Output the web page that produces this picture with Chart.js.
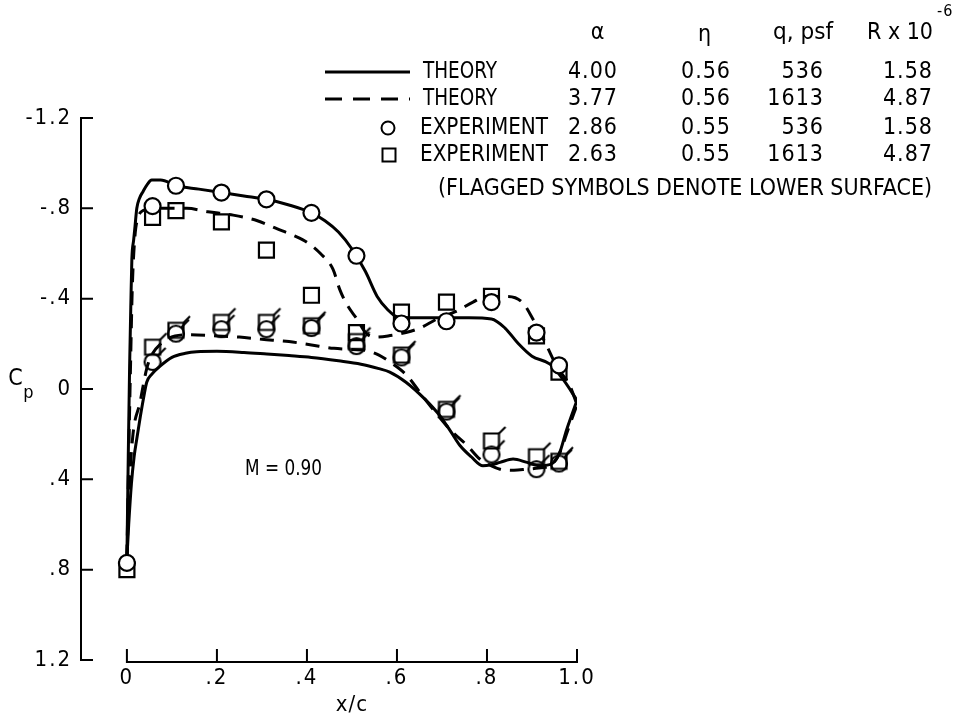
<!DOCTYPE html>
<html>
<head>
<meta charset="utf-8">
<script src="https://cdn.jsdelivr.net/npm/chart.js@4.4.0/dist/chart.umd.min.js"></script>
<style>
  body { margin: 0; background: #fff; }
  canvas { display: block; }
</style>
</head>
<body>
<canvas id="cp" width="959" height="718"></canvas>
<script>
// axis ticks
var xTickValues = [0, 0.2, 0.4, 0.6, 0.8, 1.0];
var xTickLabels = ['0', '.2', '.4', '.6', '.8', '1.0'];
var yTickValues = [-1.2, -0.8, -0.4, 0, 0.4, 0.8, 1.2];
var yTickLabels = ['-1.2', '-.8', '-.4', '0', '.4', '.8', '1.2'];

// experiment, pressure orifice stations (x/c)
var stations = [0, 0.057, 0.109, 0.21, 0.31, 0.41, 0.51, 0.61, 0.71, 0.81, 0.91, 0.96];
// circles: q = 536 psf
var circleUpper = [0.77, -0.81, -0.90, -0.87, -0.84, -0.78, -0.59, -0.29, -0.30, -0.385, -0.25, -0.105];
var circleLower = [null, -0.12, -0.245, -0.265, -0.265, -0.27, -0.19, -0.14, 0.10, 0.29, 0.355, 0.33];
// squares: q = 1613 psf
var squareUpper = [0.80, -0.76, -0.79, -0.74, -0.615, -0.415, -0.25, -0.34, -0.385, -0.41, -0.235, -0.075];
var squareLower = [null, -0.185, -0.26, -0.295, -0.295, -0.28, -0.21, -0.15, 0.09, 0.23, 0.30, 0.32];

// theory, alpha 4.00 (solid)
var solidUpX = [0, 0.003, 0.006, 0.009, 0.011, 0.015, 0.018, 0.022, 0.028, 0.036, 0.045, 0.055, 0.075, 0.11, 0.16, 0.21, 0.26, 0.31, 0.36, 0.41, 0.44, 0.47, 0.50, 0.53, 0.556, 0.58, 0.60, 0.64, 0.70, 0.76, 0.81, 0.84, 0.87, 0.90, 0.94, 0.97, 1.0];
var solidUpCp = [0.75, 0.30, -0.10, -0.40, -0.575, -0.66, -0.72, -0.80, -0.845, -0.875, -0.905, -0.925, -0.925, -0.90, -0.885, -0.87, -0.855, -0.84, -0.815, -0.78, -0.745, -0.695, -0.62, -0.52, -0.41, -0.35, -0.32, -0.315, -0.315, -0.315, -0.31, -0.27, -0.2, -0.145, -0.11, -0.04, 0.05];
var solidLoX = [0, 0.004, 0.01, 0.016, 0.022, 0.03, 0.037, 0.044, 0.055, 0.073, 0.1, 0.13, 0.155, 0.2, 0.26, 0.311, 0.36, 0.41, 0.47, 0.52, 0.56, 0.584, 0.62, 0.662, 0.696, 0.72, 0.74, 0.765, 0.791, 0.81, 0.829, 0.858, 0.889, 0.918, 0.945, 0.96, 0.977, 1.0];
var solidLoCp = [0.75, 0.60, 0.42, 0.30, 0.22, 0.12, 0.04, -0.03, -0.065, -0.10, -0.14, -0.158, -0.165, -0.167, -0.162, -0.155, -0.148, -0.14, -0.125, -0.11, -0.09, -0.075, -0.03, 0.045, 0.12, 0.19, 0.25, 0.30, 0.34, 0.335, 0.325, 0.31, 0.325, 0.34, 0.33, 0.29, 0.18, 0.05];

// theory, alpha 3.77 (dashed)
var dashUpX = [0, 0.004, 0.008, 0.012, 0.018, 0.025, 0.036, 0.06, 0.1, 0.133, 0.18, 0.236, 0.29, 0.333, 0.37, 0.40, 0.43, 0.458, 0.473, 0.49, 0.511, 0.53, 0.55, 0.58, 0.62, 0.651, 0.689, 0.733, 0.769, 0.80, 0.844, 0.878, 0.902, 0.933, 0.955, 0.984, 1.0];
var dashUpCp = [0.75, 0.30, -0.10, -0.45, -0.68, -0.76, -0.79, -0.80, -0.80, -0.80, -0.785, -0.77, -0.745, -0.71, -0.68, -0.65, -0.60, -0.53, -0.44, -0.37, -0.31, -0.25, -0.23, -0.235, -0.25, -0.27, -0.31, -0.345, -0.385, -0.41, -0.41, -0.385, -0.31, -0.19, -0.10, -0.015, 0.07];
var dashLoX = [0, 0.005, 0.013, 0.029, 0.044, 0.055, 0.075, 0.107, 0.14, 0.2, 0.25, 0.3, 0.36, 0.41, 0.46, 0.50, 0.533, 0.56, 0.584, 0.622, 0.651, 0.68, 0.718, 0.756, 0.784, 0.81, 0.829, 0.86, 0.889, 0.915, 0.94, 0.962, 0.98, 1.0];
var dashLoCp = [0.75, 0.45, 0.21, 0.06, -0.09, -0.15, -0.20, -0.235, -0.24, -0.235, -0.23, -0.22, -0.21, -0.195, -0.18, -0.175, -0.17, -0.15, -0.12, -0.06, 0.015, 0.09, 0.18, 0.25, 0.31, 0.34, 0.355, 0.36, 0.355, 0.35, 0.34, 0.28, 0.18, 0.07];

// legend table
var legendNames = ['THEORY', 'THEORY', 'EXPERIMENT', 'EXPERIMENT'];
var alphaVals = ['4.00', '3.77', '2.86', '2.63'];
var etaVals = ['0.56', '0.56', '0.55', '0.55'];
var qVals = ['536', '1613', '536', '1613'];
var rVals = ['1.58', '4.87', '1.58', '4.87'];

var FONT = '"Liberation Sans Narrow", "DejaVu Sans Condensed", "Liberation Sans", sans-serif';

function pts(xs, ys) {
  var out = [];
  for (var i = 0; i < xs.length; i++) {
    if (ys[i] !== null) out.push({x: xs[i], y: ys[i]});
  }
  return out;
}

// symbol with a little flag, for the lower surface
function flagged(kind) {
  var c = document.createElement('canvas');
  c.width = 44; c.height = 44;
  var g = c.getContext('2d');
  g.strokeStyle = '#000';
  g.lineWidth = 2.2;
  g.beginPath();
  if (kind == 'circle') g.arc(22, 22, 8, 0, Math.PI * 2);
  else g.rect(14.5, 14.5, 15, 15);
  g.stroke();
  g.beginPath();
  if (kind == 'circle') { g.moveTo(27, 16); g.lineTo(35, 8); }
  else { g.moveTo(29, 15); g.lineTo(36, 8); }
  g.stroke();
  return c;
}

// text squeezed to a given width, left edge at x
function fitText(ctx, text, x, y, w) {
  ctx.save();
  ctx.letterSpacing = '0px';
  ctx.textAlign = 'left';
  var m = ctx.measureText(text).width;
  ctx.translate(x, y);
  ctx.scale(w / m, 1);
  ctx.fillText(text, 0, 0);
  ctx.restore();
}

var decor = {
  id: 'decor',
  beforeDraw: function(chart) {
    chart.ctx.letterSpacing = '2px';
  },
  beforeDatasetsDraw: function(chart) {
    var ctx = chart.ctx, xs = chart.scales.x, ys = chart.scales.y;
    var left = chart.chartArea.left;
    var top = ys.getPixelForValue(-1.2), bot = ys.getPixelForValue(1.2);
    ctx.save();
    ctx.strokeStyle = '#000';
    ctx.lineWidth = 2;
    ctx.beginPath();
    ctx.moveTo(left, top - 1);
    ctx.lineTo(left, bot + 1);
    yTickValues.forEach(function(v) {
      var py = ys.getPixelForValue(v);
      ctx.moveTo(left, py);
      ctx.lineTo(left + 12, py);
    });
    var xb = bot + 2;
    ctx.moveTo(xs.getPixelForValue(0) - 1, xb);
    ctx.lineTo(xs.getPixelForValue(1) + 1, xb);
    xTickValues.forEach(function(v) {
      var px = xs.getPixelForValue(v);
      ctx.moveTo(px, xb);
      ctx.lineTo(px, xb - 13);
    });
    ctx.stroke();
    ctx.restore();
  },
  afterDraw: function(chart) {
    var ctx = chart.ctx, xs = chart.scales.x, ys = chart.scales.y;
    ctx.save();
    ctx.fillStyle = '#000';
    ctx.strokeStyle = '#000';
    ctx.letterSpacing = '1px';
    ctx.textBaseline = 'middle';

    // axis titles
    var y0 = ys.getPixelForValue(0);
    ctx.font = '23px ' + FONT;
    ctx.textAlign = 'center';
    ctx.fillText('C', 16, y0 - 10);
    ctx.font = '18px ' + FONT;
    ctx.fillText('p', 29, y0 + 4);
    ctx.font = '22px ' + FONT;
    ctx.fillText('x/c', xs.getPixelForValue(0.5), 705);
    fitText(ctx, 'M = 0.90', xs.getPixelForValue(0.347) - 38, ys.getPixelForValue(0.355), 77);

    // legend header
    ctx.font = '23px ' + FONT;
    ctx.textAlign = 'center';
    ctx.fillText('\u03b1', 598, 33);
    ctx.fillText('\u03b7', 705, 35);
    fitText(ctx, 'q, psf', 773, 33, 60);
    fitText(ctx, 'R x 10', 867, 33, 66);
    ctx.font = '16px ' + FONT;
    ctx.textAlign = 'left';
    ctx.fillText('-6', 937, 12);
    ctx.font = '23px ' + FONT;

    var rows = [72, 99, 128, 155];
    for (var i = 0; i < rows.length; i++) {
      var ry = rows[i];
      if (i < 2) fitText(ctx, legendNames[i], 423, ry, 74);
      else fitText(ctx, legendNames[i], 420, ry, 128);
      ctx.textAlign = 'right';
      ctx.fillText(alphaVals[i], 618, ry);
      ctx.fillText(qVals[i], 824, ry);
      ctx.fillText(rVals[i], 933, ry);
      ctx.textAlign = 'center';
      ctx.fillText(etaVals[i], 706, ry);
    }
    // legend samples
    ctx.lineWidth = 2.8;
    ctx.beginPath();
    ctx.moveTo(325, rows[0]); ctx.lineTo(410, rows[0]);
    ctx.stroke();
    ctx.setLineDash([17, 11]);
    ctx.beginPath();
    ctx.moveTo(325, rows[1]); ctx.lineTo(410, rows[1]);
    ctx.stroke();
    ctx.setLineDash([]);
    ctx.lineWidth = 2;
    ctx.beginPath();
    ctx.arc(388, rows[2], 6.5, 0, Math.PI * 2);
    ctx.stroke();
    ctx.strokeRect(382.5, rows[3] - 6.5, 13, 13);

    fitText(ctx, '(FLAGGED SYMBOLS DENOTE LOWER SURFACE)', 438, 189, 494);
    ctx.restore();
    ctx.letterSpacing = '0px';
  }
};

var pointBase = {
  showLine: false,
  pointBorderColor: '#000',
  pointBorderWidth: 2.2
};
function pointSet(data, style, radius, fill) {
  return Object.assign({}, pointBase, {
    data: data, pointStyle: style, pointRadius: radius,
    pointBackgroundColor: fill
  });
}
function lineSet(data, dash) {
  return {
    data: data, showLine: true, pointRadius: 0, borderColor: '#000',
    borderWidth: 3, borderDash: dash, fill: false,
    cubicInterpolationMode: 'monotone'
  };
}

var ctx = document.getElementById('cp').getContext('2d');
var chart = new Chart(ctx, {
  type: 'scatter',
  data: {
    datasets: [
      pointSet(pts(stations, circleUpper), 'circle', 8, '#fff'),
      pointSet(pts(stations, circleLower), flagged('circle'), 8, 'rgba(0,0,0,0)'),
      pointSet(pts(stations, squareUpper), 'rect', 10.6, 'rgba(0,0,0,0)'),
      pointSet(pts(stations, squareLower), flagged('square'), 8, 'rgba(0,0,0,0)'),
      lineSet(pts(solidUpX, solidUpCp), []),
      lineSet(pts(solidLoX, solidLoCp), []),
      lineSet(pts(dashUpX, dashUpCp), [14, 9]),
      lineSet(pts(dashLoX, dashLoCp), [14, 9])
    ]
  },
  options: {
    responsive: false,
    animation: false,
    events: [],
    layout: { padding: { left: 6, right: 382, top: 118, bottom: 6 } },
    plugins: { legend: { display: false }, tooltip: { enabled: false } },
    scales: {
      x: {
        type: 'linear', min: -0.102, max: 1.0,
        border: { display: false },
        grid: { display: false, drawTicks: false },
        afterBuildTicks: function(s) { s.ticks = xTickValues.map(function(v) { return {value: v}; }); },
        afterFit: function(s) { s.height = 52; },
        ticks: {
          autoSkip: false, maxRotation: 0, padding: 5, color: '#000',
          font: { family: FONT, size: 22 },
          callback: function(v, i) { return xTickLabels[i]; }
        }
      },
      y: {
        type: 'linear', min: -1.2, max: 1.2, reverse: true,
        border: { display: false },
        grid: { display: false, drawTicks: false },
        afterBuildTicks: function(s) { s.ticks = yTickValues.map(function(v) { return {value: v}; }); },
        afterFit: function(s) { s.width = 75; },
        ticks: {
          autoSkip: false, padding: 9, color: '#000',
          font: { family: FONT, size: 22 },
          callback: function(v, i) { return yTickLabels[i]; }
        }
      }
    }
  },
  plugins: [decor]
});
</script>
</body>
</html>
